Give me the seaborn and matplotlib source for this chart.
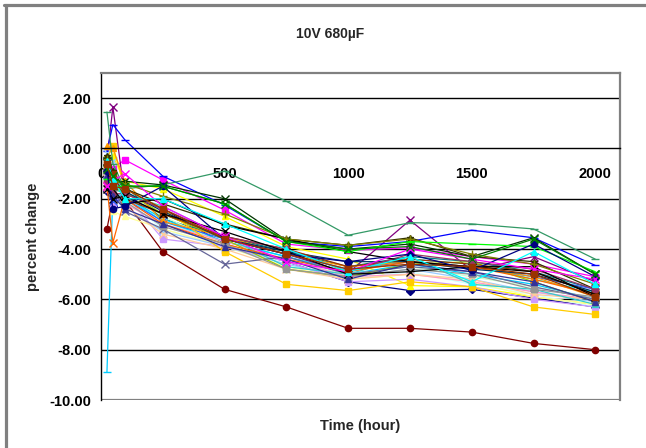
import matplotlib
matplotlib.use("Agg")
import matplotlib.pyplot as plt
from matplotlib.lines import Line2D
import seaborn as sns

sns.set_style("white")
plt.rcParams['font.family'] = ['Liberation Sans', 'DejaVu Sans']

hours = [24, 48, 96, 250, 500, 750, 1000, 1250, 1500, 1750, 2000]
x_ticks = [0, 500, 1000, 1500, 2000]
y_ticks = [-10, -8, -6, -4, -2, 0, 2]

s01 = [-1.7, -2.3, -1.8, -2.4, -3.8, -4.5, -5.3, -5.65, -5.6, -5.95, -6.3]
s02 = [-1.4, -0.8, -0.45, -1.25, -2.45, -3.8, -4.05, -3.95, -4.3, -4.6, -5.1]
s03 = [-0.6, -0.3, -1.3, -1.6, -2.7, -3.9, -4.4, -5.45, -5.5, -5.9, -6.2]
s04 = [-1.0, -1.4, -1.9, -2.9, -3.7, -4.3, -4.9, -4.4, -4.6, -5.2, -5.7]
s05 = [-0.5, 1.65, -1.9, -2.6, -3.6, -4.2, -4.95, -2.85, -4.85, -4.3, -5.3]
s06 = [-3.2, -2.0, -2.05, -4.1, -5.6, -6.3, -7.15, -7.15, -7.3, -7.75, -8.0]
s07 = [-0.8, -1.3, -1.5, -2.8, -3.5, -4.1, -4.7, -4.3, -4.5, -4.9, -5.6]
s08 = [-0.1, 0.95, 0.35, -1.1, -2.25, -3.7, -3.9, -3.7, -3.25, -3.55, -4.65]
s09 = [-8.9, -1.8, -1.9, -2.8, -3.7, -4.3, -5.0, -4.6, -5.0, -5.4, -6.0]
s10 = [-1.2, -1.8, -2.0, -3.2, -3.9, -4.6, -5.2, -4.9, -5.4, -5.8, -6.3]
s11 = [-0.7, -1.5, -1.7, -2.7, -3.8, -4.5, -5.0, -4.7, -5.1, -5.5, -6.0]
s12 = [-1.3, -2.5, -2.7, -3.2, -3.9, -4.7, -5.2, -5.0, -5.3, -5.9, -6.2]
s13 = [-0.2, -0.5, -2.3, -3.3, -3.9, -4.6, -5.1, -4.8, -5.2, -5.7, -6.1]
s14 = [-1.6, -1.9, -2.2, -3.0, -3.7, -4.4, -5.1, -5.0, -5.3, -5.7, -6.0]
s15 = [-1.1, -2.2, -1.8, -3.6, -3.9, -4.5, -5.3, -5.2, -5.5, -6.0, -6.3]
s16 = [-0.9, -1.7, -2.3, -3.4, -4.0, -4.8, -5.2, -5.0, -5.2, -5.8, -6.0]
s17 = [-1.0, -2.1, -2.0, -2.9, -3.6, -4.2, -4.8, -4.5, -4.7, -5.1, -5.6]
s18 = [-0.7, -1.6, -1.8, -2.3, -3.5, -4.7, -5.0, -4.3, -5.4, -5.6, -6.2]
s19 = [-0.8, -1.6, -1.7, -2.6, -3.6, -4.8, -5.1, -4.6, -4.5, -5.3, -6.1]
s20 = [-0.4, 0.1, -1.6, -2.4, -4.1, -5.4, -5.65, -5.3, -5.5, -6.3, -6.6]
s21 = [0.1, 0.0, -1.3, -2.9, -3.5, -4.2, -4.7, -4.5, -4.7, -5.1, -5.9]
s22 = [-1.5, -3.75, -2.0, -3.0, -3.8, -4.4, -4.9, -4.5, -4.7, -5.2, -5.8]
s23 = [-1.0, -1.5, -2.5, -3.2, -4.6, -4.3, -5.0, -4.7, -4.9, -5.5, -6.0]
s24 = [-0.9, -1.7, -2.1, -3.1, -3.8, -4.8, -5.1, -4.8, -5.0, -5.6, -5.9]
s25 = [-0.4, -1.2, -1.7, -2.5, -3.6, -4.1, -4.5, -4.5, -4.8, -5.0, -5.7]
s26 = [1.45, -0.6, -1.6, -1.45, -0.9, -2.1, -3.45, -2.95, -3.0, -3.2, -4.4]
s27 = [-0.5, -1.4, -1.3, -1.45, -2.0, -3.65, -4.0, -3.8, -4.3, -3.55, -5.0]
s28 = [-0.3, -0.9, -1.6, -2.2, -3.0, -3.6, -3.85, -3.55, -4.3, -4.5, -5.6]
s29 = [-0.6, -1.0, -2.0, -2.6, -3.5, -4.0, -4.7, -4.4, -4.6, -4.9, -5.8]
s30 = [-1.3, -1.8, -1.8, -2.4, -3.5, -4.0, -4.9, -4.2, -4.5, -4.8, -5.6]
s31 = [-1.1, -1.9, -2.4, -3.0, -3.9, -4.4, -5.2, -4.6, -4.9, -5.3, -6.1]
s32 = [-1.6, -2.0, -1.9, -2.6, -3.3, -4.1, -5.0, -4.9, -4.7, -4.7, -5.9]
s33 = [-0.9, -1.6, -2.2, -2.0, -3.05, -3.6, -4.1, -4.5, -4.7, -4.9, -5.8]
s34 = [-0.4, -1.3, -1.4, -1.9, -2.6, -3.6, -3.85, -3.6, -4.2, -4.6, -5.4]
s35 = [-1.2, -1.5, -1.5, -1.5, -2.2, -3.7, -4.1, -3.7, -3.8, -3.9, -4.9]
s36 = [-0.9, -2.4, -2.3, -1.5, -3.6, -4.2, -4.5, -4.2, -4.85, -3.8, -5.1]
s37 = [-1.5, -1.3, -1.0, -2.3, -3.5, -4.5, -4.9, -4.0, -4.4, -4.8, -5.2]
s38 = [-0.5, -1.2, -2.0, -2.0, -3.0, -4.0, -4.9, -4.3, -5.3, -4.1, -5.4]
s39 = [-0.8, -1.1, -1.5, -1.5, -2.2, -3.7, -4.0, -3.9, -4.4, -3.6, -5.0]
s40 = [-0.6, -1.5, -1.6, -2.4, -3.6, -4.2, -4.8, -4.6, -4.7, -5.0, -5.9]

series = [s01, s02, s03, s04, s05, s06, s07, s08, s09, s10,
          s11, s12, s13, s14, s15, s16, s17, s18, s19, s20,
          s21, s22, s23, s24, s25, s26, s27, s28, s29, s30,
          s31, s32, s33, s34, s35, s36, s37, s38, s39, s40]

styles = [
    ('#000080', 'D'), ('#FF00FF', 's'), ('#FFFF00', '^'), ('#00FFFF', 'x'),
    ('#800080', 'x'), ('#800000', 'o'), ('#008080', '+'), ('#0000FF', '_'),
    ('#00CCFF', '_'), ('#CCFFFF', 'o'), ('#CCFFCC', '^'), ('#FFFF99', '^'),
    ('#99CCFF', 'x'), ('#FF99CC', 's'), ('#CC99FF', 's'), ('#FFCC99', 'x'),
    ('#3366FF', 'x'), ('#33CCCC', '^'), ('#99CC00', 'o'), ('#FFCC00', 's'),
    ('#FF9900', '^'), ('#FF6600', 'x'), ('#666699', 'x'), ('#969696', 's'),
    ('#003366', 'D'), ('#339966', '_'), ('#003300', 'x'), ('#333300', '*'),
    ('#993300', 's'), ('#993366', 'o'), ('#333399', '^'), ('#000000', 'x'),
    ('#000000', '_'), ('#808000', '+'), ('#00FF00', '_'), ('#000080', 'o'),
    ('#FF00FF', 'x'), ('#00FFFF', '^'), ('#008000', 'x'), ('#993300', 's'),
]

fig = plt.figure(figsize=(6.46, 4.48), dpi=100)
ax = fig.add_axes([101 / 646, 1 - 400 / 448, (620 - 101) / 646, (400 - 73) / 448])

for y in [-8, -6, -4, -2, 2]:
    ax.axhline(y, color='black', lw=1.0, zorder=1)
ax.axhline(-10, color='#808080', lw=1.6, zorder=1)

for vals, (c, m) in zip(series, styles):
    filled = m not in ('x', '+', '_')
    kw = dict(color=c, marker=m, linewidth=0.9, markeredgecolor=c,
              markersize=4.5 if filled else 5.5, markeredgewidth=1.0)
    if c == '#CCFFFF':
        kw.update(markerfacecolor='white', markeredgecolor='#99CCCC')
    sns.lineplot(x=hours, y=vals, ax=ax, **kw)

ax.set_xlim(0, 2100)
ax.set_ylim(-10, 3)
ax.set_xticks(x_ticks)
ax.set_xticklabels([str(t) for t in x_ticks])
ax.set_yticks(y_ticks)
ax.set_yticklabels([f"{t:.2f}" for t in y_ticks])

ax.spines['bottom'].set_position(('data', 0))
ax.spines['bottom'].set_color('black')
ax.spines['bottom'].set_linewidth(1.0)
ax.spines['left'].set_color('black')
ax.spines['left'].set_linewidth(1.0)
for s in ['top', 'right']:
    ax.spines[s].set_color('#808080')
    ax.spines[s].set_linewidth(1.6)

ax.tick_params(axis='x', direction='out', length=4, width=1, pad=9,
               labelsize=10.5, colors='black')
ax.tick_params(axis='y', direction='inout', length=8.5, width=1, pad=3,
               labelsize=10.5, colors='black')
for lab in ax.get_xticklabels() + ax.get_yticklabels():
    lab.set_fontweight('bold')
ax.set_xlabel('')
ax.set_ylabel('')

fig.text(330 / 646, 1 - 34 / 448, '10V 680µF', ha='center', va='center',
         fontsize=10, fontweight='bold')
fig.text(360 / 646, 1 - 426 / 448, 'Time (hour)', ha='center', va='center',
         fontsize=10.5, fontweight='bold')
fig.text(33 / 646, 1 - 237 / 448, 'percent change', ha='center', va='center',
         rotation=90, fontsize=10.5, fontweight='bold')

fig.add_artist(Line2D([5.5 / 646, 5.5 / 646], [0, 1 - 5.5 / 448],
                      transform=fig.transFigure, color='#808080', lw=2.3))
fig.add_artist(Line2D([4 / 646, 1], [1 - 5.5 / 448, 1 - 5.5 / 448],
                      transform=fig.transFigure, color='#808080', lw=2.3))

fig.savefig('out.png', dpi=100)
